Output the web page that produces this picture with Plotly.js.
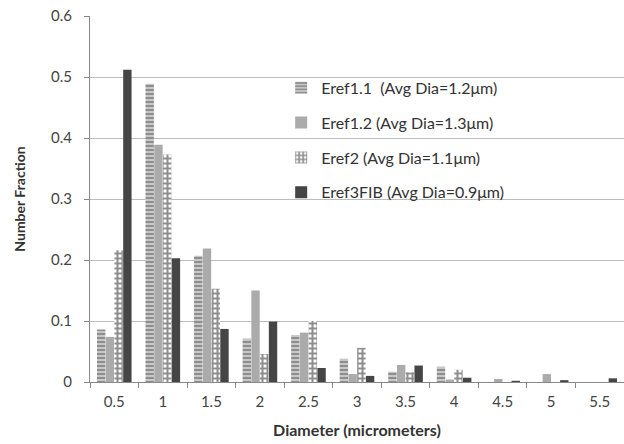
<!DOCTYPE html>
<html>
<head>
<meta charset="utf-8">
<script src="https://cdn.plot.ly/plotly-3.0.1.min.js"></script>
<style>html,body{margin:0;padding:0;background:#fff;}#chart{width:624px;height:444px;}</style>
</head>
<body>
<div id="chart"></div>
<script>
var categories = ["0.5","1","1.5","2","2.5","3","3.5","4","4.5","5","5.5"];
var seriesNames = ["Eref1.1  (Avg Dia=1.2\u03bcm)","Eref1.2 (Avg Dia=1.3\u03bcm)","Eref2 (Avg Dia=1.1\u03bcm)","Eref3FIB (Avg Dia=0.9\u03bcm)"];
var eref11 = [0.086,0.489,0.207,0.071,0.077,0.038,0.017,0.025,0,0,0];
var eref12 = [0.074,0.389,0.219,0.150,0.081,0.013,0.028,0.004,0.005,0.013,0];
var eref2  = [0.216,0.373,0.153,0.046,0.100,0.056,0.016,0.020,0,0,0];
var eref3  = [0.512,0.203,0.087,0.099,0.023,0.010,0.027,0.007,0.002,0.003,0.006];
var yTicks = [0,0.1,0.2,0.3,0.4,0.5,0.6];
var yTickText = ["0","0.1","0.2","0.3","0.4","0.5","0.6"];

var F = "Lato, 'Open Sans', sans-serif";
var traces = [
  {type:"bar", name:seriesNames[0], x:categories, y:eref11, legendgroup:"a",
   marker:{color:"#ffffff", line:{width:0}, pattern:{shape:"-", fgcolor:"#1e1e1e", bgcolor:"#ffffff", size:4, solidity:0.75, fillmode:"overlay"}}},
  {type:"bar", name:seriesNames[1], x:categories, y:eref12, legendgroup:"b",
   marker:{color:"#ababab", line:{width:0}}},
  {type:"bar", name:seriesNames[2], x:categories, y:eref2, legendgroup:"c",
   marker:{color:"#ffffff", line:{width:0}, pattern:{shape:"+", fgcolor:"#1e1e1e", bgcolor:"#ffffff", size:5, solidity:0.65, fillmode:"overlay"}}},
  {type:"bar", name:seriesNames[3], x:categories, y:eref3, legendgroup:"d",
   marker:{color:"#454545", line:{width:0}}}
];
var layout = {
  width:624, height:444,
  margin:{l:90, r:0, t:16, b:62},
  paper_bgcolor:"#ffffff", plot_bgcolor:"#ffffff",
  font:{family:F, size:15, color:"#444"},
  barmode:"group", bargap:0.28, bargroupgap:0.04,
  showlegend:true,
  legend:{x:0.358, y:0.85, xanchor:"left", yanchor:"top", bgcolor:"rgba(0,0,0,0)",
          font:{family:F, size:16, color:"#333"}, traceorder:"grouped", tracegroupgap:11, itemwidth:30},
  xaxis:{type:"category", tickmode:"array", tickvals:categories, ticktext:categories,
         range:[-0.5,10.5], showline:true, linecolor:"#888", linewidth:1,
         ticks:"outside", tickson:"boundaries", ticklen:5, tickcolor:"#888",
         showgrid:false, tickfont:{family:F, size:15, color:"#444"}, ticklabelstandoff:6,
         title:{text:"<b>Diameter (micrometers)</b>", font:{family:F, size:16, color:"#333"}, standoff:15}},
  yaxis:{range:[0,0.6], tickmode:"array", tickvals:yTicks, ticktext:yTickText,
         showline:true, linecolor:"#888", linewidth:1, ticks:"outside", ticklen:5, tickcolor:"#888",
         showgrid:true, gridcolor:"#bcbcbc", gridwidth:1, zeroline:false,
         tickfont:{family:F, size:15, color:"#444"}, ticklabelstandoff:9,
         title:{text:"<b>Number Fraction</b>", font:{family:F, size:14, color:"#333"}, standoff:22}}
};
Plotly.newPlot("chart", traces, layout, {staticPlot:true, displayModeBar:false});
</script>
</body>
</html>
